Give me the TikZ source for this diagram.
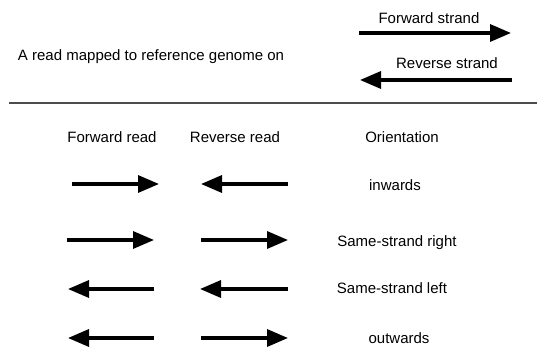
\documentclass[tikz,border=0pt]{standalone}
\usepackage{fontspec}
\setmainfont{Liberation Sans}
\usetikzlibrary{arrows.meta,positioning}

\begin{document}
\begin{tikzpicture}[x=1pt,y=-1pt,>={Triangle[length=21pt,width=17pt]},
    lbl/.style={inner sep=0pt,text height=11pt,text depth=3pt,font=\fontsize{15}{18}\selectfont},
    read/.style={->,line width=3.4pt}]
    \useasboundingbox (0,0) rectangle (537,347);
    % legend: strands of the reference
    \node[lbl]      (title)   at (151,57)   {A read mapped to reference genome on};
    \node[lbl]      (fwd)     at (429,20)   {Forward strand};
    \node[lbl]      (rev)     at (447,65)   {Reverse strand};
    \coordinate     (fwdL)    at (359,33);
    \coordinate     (fwdR)    at (511,33);
    \coordinate     (revL)    at (360,80);
    \coordinate     (revR)    at (512,80);
    \draw[read] (fwdL) -- (fwdR);
    \draw[read] (revR) -- (revL);

    % separator
    \coordinate     (sepL)    at (9,103);
    \coordinate     (sepR)    at (537,103);
    \draw[black!70,line width=1.3pt] (sepL) -- (sepR);

    % table headers
    \node[lbl]      (hF)      at (112,139)  {Forward read};
    \node[lbl]      (hR)      at (235,139)  {Reverse read};
    \node[lbl]      (hO)      at (402,139)  {Orientation};

    % orientation labels
    \node[lbl]      (o1)      at (395,186)  {inwards};
    \node[lbl]      (o2)      at (397,242)  {Same-strand right};
    \node[lbl]      (o3)      at (392,289)  {Same-strand left};
    \node[lbl]      (o4)      at (399,339)  {outwards};

    % read ends, one pair per row
    \coordinate     (f1a)     at (72,184);
    \coordinate     (f1b)     at (159,184);
    \coordinate     (r1a)     at (201,184);
    \coordinate     (r1b)     at (288,184);
    \coordinate     (f2a)     at (67,240);
    \coordinate     (f2b)     at (154,240);
    \coordinate     (r2a)     at (201,240);
    \coordinate     (r2b)     at (288,240);
    \coordinate     (f3a)     at (68,289);
    \coordinate     (f3b)     at (154,289);
    \coordinate     (r3a)     at (200,289);
    \coordinate     (r3b)     at (288,289);
    \coordinate     (f4a)     at (68,338);
    \coordinate     (f4b)     at (154,338);
    \coordinate     (r4a)     at (201,338);
    \coordinate     (r4b)     at (288,338);

    \draw[read] (f1a) -- (f1b);
    \draw[read] (r1b) -- (r1a);
    \draw[read] (f2a) -- (f2b);
    \draw[read] (r2a) -- (r2b);
    \draw[read] (f3b) -- (f3a);
    \draw[read] (r3b) -- (r3a);
    \draw[read] (f4b) -- (f4a);
    \draw[read] (r4a) -- (r4b);
\end{tikzpicture}
\end{document}
